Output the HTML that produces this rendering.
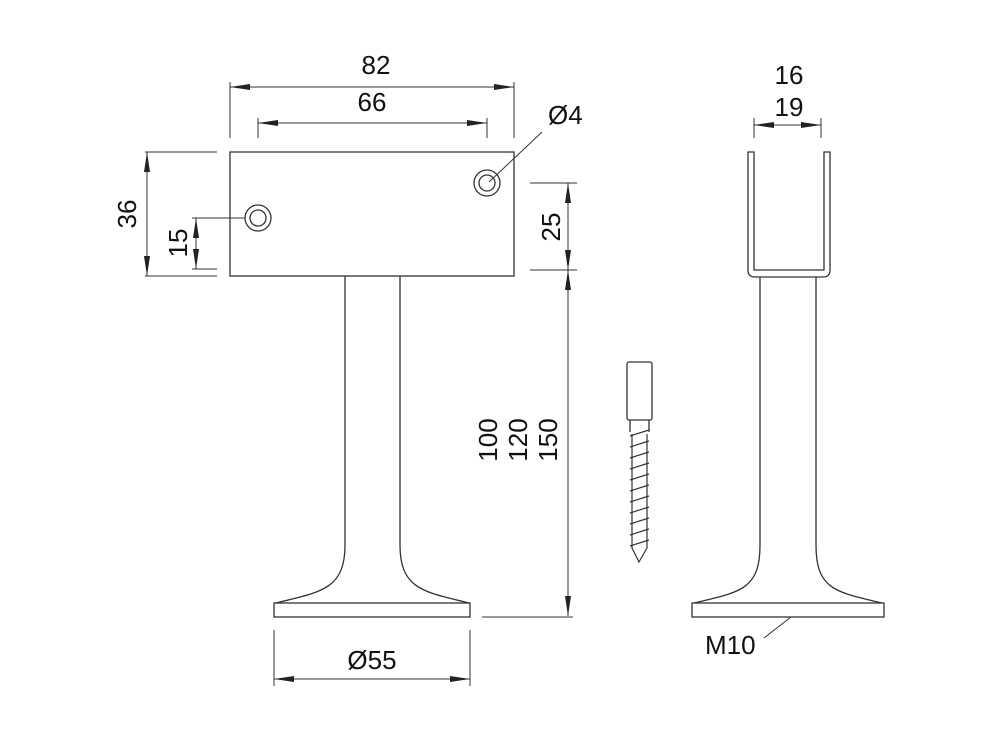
<!DOCTYPE html>
<html><head><meta charset="utf-8"><style>html,body{margin:0;padding:0;background:#fff}svg{display:block}text{font-family:"Liberation Sans",sans-serif;fill:#111}</style></head>
<body>
<svg width="1000" height="736" viewBox="0 0 1000 736" xmlns="http://www.w3.org/2000/svg">
<defs>
<marker id="a" viewBox="0 0 20 6" refX="20" refY="3" markerWidth="20" markerHeight="6" markerUnits="userSpaceOnUse" orient="auto-start-reverse"><path d="M0,0 L20,3 L0,6 z" fill="#222"/></marker>
</defs>
<g fill="none" stroke="#333" stroke-width="1.3">
<rect x="230" y="152" width="284" height="124"/>
<circle cx="258" cy="218" r="13"/><circle cx="258" cy="218" r="8"/>
<circle cx="487" cy="183" r="13"/><circle cx="487" cy="183" r="8"/>
<path d="M345,276 L345,545 C345,590 320,592 276,603"/>
<path d="M400,276 L400,545 C400,590 425,592 469,603"/>
<rect x="274" y="603" width="196" height="14"/>
<path d="M748,152 L748,270 Q748,277 755,277 L823,277 Q830,277 830,270 L830,152 L824,152 L824,270 L754,270 L754,152 Z"/>
<path d="M760,277 L760,545 C760,590 740,592 694,603"/>
<path d="M816,277 L816,545 C816,590 836,592 882,603"/>
<rect x="692" y="603" width="192" height="14"/>
<rect x="627" y="362" width="25" height="58" rx="2"/>
<path d="M630,420 L630,432 M649,420 L649,432"/>
</g>
<g stroke="#333" stroke-width="1.2" fill="none">
<path d="M630,436 L649,430 M630,447 L649,441 M630,458 L649,452 M630,469 L649,463 M630,480 L649,474 M630,491 L649,485 M630,502 L649,496 M630,513 L649,507 M630,524 L649,518 M630,535 L649,529 M630,546 L649,540"/>
<path d="M632,434 L632,548 L639,562 L647,548 L647,434"/>
</g>
<g stroke="#333" stroke-width="1" fill="none">
<path d="M230,82 L230,138 M514,82 L514,138 M258,118 L258,138 M487,118 L487,138"/>
<line x1="230" y1="87" x2="514" y2="87" marker-start="url(#a)" marker-end="url(#a)"/>
<line x1="258" y1="123" x2="487" y2="123" marker-start="url(#a)" marker-end="url(#a)"/>
<path d="M489,182 L542,132"/>
<path d="M145,152 L217,152 M145,276 L217,276"/>
<line x1="147" y1="152" x2="147" y2="276" marker-start="url(#a)" marker-end="url(#a)"/>
<path d="M192,218 L245,218 M192,269 L217,269"/>
<line x1="196" y1="218" x2="196" y2="269" marker-start="url(#a)" marker-end="url(#a)"/>
<path d="M530,183 L577,183 M530,270 L577,270"/>
<line x1="568" y1="183" x2="568" y2="270" marker-start="url(#a)" marker-end="url(#a)"/>
<line x1="568" y1="270" x2="568" y2="616" marker-start="url(#a)" marker-end="url(#a)"/>
<path d="M482,617 L573,617"/>
<path d="M274,630 L274,686 M470,630 L470,686"/>
<line x1="274" y1="679" x2="470" y2="679" marker-start="url(#a)" marker-end="url(#a)"/>
<path d="M754,118 L754,138 M821,118 L821,138"/>
<line x1="754" y1="125" x2="821" y2="125" marker-start="url(#a)" marker-end="url(#a)"/>
<path d="M791,617 L764,638"/>
</g>
<g font-size="26">
<text x="376" y="74" text-anchor="middle">82</text>
<text x="372" y="111" text-anchor="middle">66</text>
<text x="548" y="124">Ø4</text>
<text x="372" y="669" text-anchor="middle">Ø55</text>
<text x="705" y="654">M10</text>
<text x="789" y="84" text-anchor="middle">16</text>
<text x="789" y="116" text-anchor="middle">19</text>
<text transform="translate(136,214) rotate(-90)" text-anchor="middle">36</text>
<text transform="translate(187,243) rotate(-90)" text-anchor="middle">15</text>
<text transform="translate(560,227) rotate(-90)" text-anchor="middle">25</text>
<text transform="translate(497,440) rotate(-90)" text-anchor="middle">100</text>
<text transform="translate(527,440) rotate(-90)" text-anchor="middle">120</text>
<text transform="translate(557,440) rotate(-90)" text-anchor="middle">150</text>
</g>
</svg>
</body></html>
